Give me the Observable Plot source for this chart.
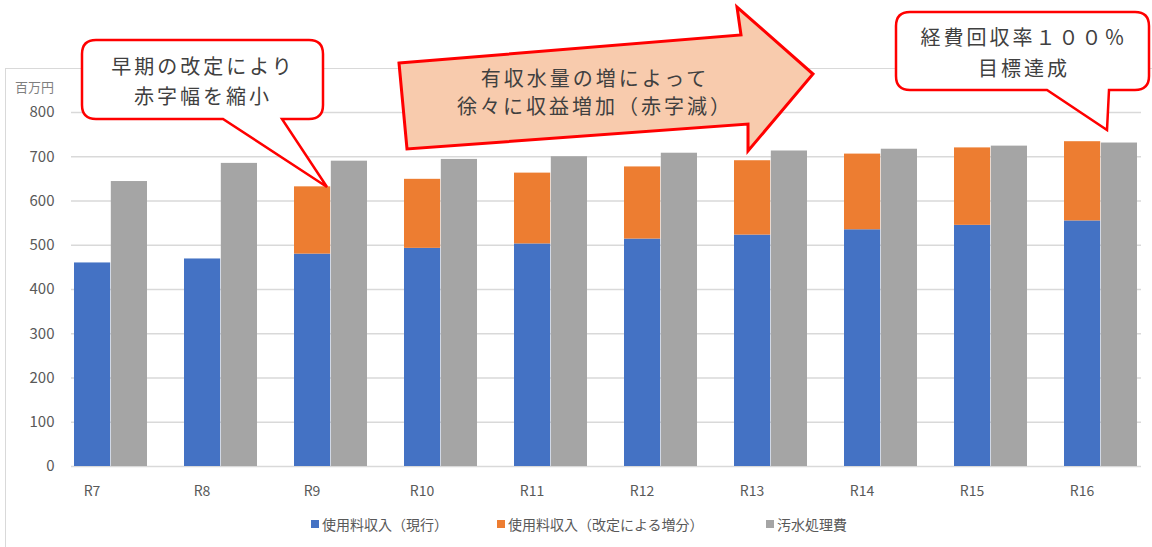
<!DOCTYPE html>
<html>
<head>
<meta charset="utf-8">
<script src="https://cdn.jsdelivr.net/npm/d3@7"></script>
<script src="https://cdn.jsdelivr.net/npm/@observablehq/plot@0.6"></script>
<style>
  html, body { margin: 0; padding: 0; background: #fff; }
  #wrap { position: relative; width: 1152px; height: 547px; overflow: hidden; font-family: "Noto Sans CJK JP", "Noto Sans", sans-serif; }
  #frame { position: absolute; left: 5px; top: 68px; width: 1160px; height: 500px; border: 1px solid #d9d9d9; box-sizing: border-box; }
  #chart { position: absolute; left: 0; top: 0; }
  #unit { position: absolute; left: 15px; top: 80px; font-size: 13px; color: #7f7f7f; line-height: 1; }
  #legend { position: absolute; top: 514px; left: 0; width: 1152px; height: 20px; font-size: 14px; color: #595959; }
  .item { position: absolute; top: 0; display: flex; align-items: center; height: 20px; white-space: nowrap; }
  .sw { width: 8px; height: 8px; margin-right: 3px; }
  #overlay { position: absolute; left: 0; top: 0; pointer-events: none; }
</style>
</head>
<body>
<div id="wrap">
  <div id="frame"></div>
  <div id="chart"></div>
  <div id="unit">百万円</div>
  <div id="legend"></div>
  <svg id="overlay" width="1152" height="547"></svg>
</div>
<script>
// ---- data ----
const categories = ["R7", "R8", "R9", "R10", "R11", "R12", "R13", "R14", "R15", "R16"];
const currentRevenue = [460, 469, 480, 493, 503, 514, 523, 535, 545, 555];
const revisionIncrease = [0, 0, 152, 156, 160, 163, 168, 171, 175, 179];
const treatmentCost = [644, 685, 690, 694, 700, 708, 713, 717, 724, 731];
const seriesNames = ["使用料収入（現行）", "使用料収入（改定による増分）", "汚水処理費"];
const seriesColors = ["#4472c4", "#ed7d31", "#a5a5a5"];
const yTicks = [0, 100, 200, 300, 400, 500, 600, 700, 800];
const callout1 = ["早期の改定により", "赤字幅を縮小"];
const arrowText = ["有収水量の増によって", "徐々に収益増加（赤字減）"];
const callout2 = ["経費回収率１００％", "目標達成"];

// ---- tables ----
const revRows = [];
categories.forEach((c, i) => {
  revRows.push({cat: c, series: seriesNames[0], value: currentRevenue[i]});
  if (revisionIncrease[i] > 0) revRows.push({cat: c, series: seriesNames[1], value: revisionIncrease[i]});
});
const costRows = categories.map((c, i) => ({cat: c, series: seriesNames[2], value: treatmentCost[i]}));

// ---- layout ----
const W = 1152, H = 506, ML = 71, MR = 11, MT = 112, MB = 40;
const PI = 0.335;
const step = (W - ML - MR) / (categories.length - PI);
const half = step * (1 - PI) / 2;

const chart = Plot.plot({
  width: W, height: H,
  marginTop: MT, marginBottom: MB, marginLeft: ML, marginRight: MR,
  style: {fontFamily: '"Noto Sans CJK JP", "Noto Sans", sans-serif', background: "transparent", color: "#595959", overflow: "visible"},
  x: {domain: categories, paddingInner: PI, paddingOuter: 0, label: null},
  y: {domain: [0, 800], label: null},
  color: {domain: seriesNames, range: seriesColors},
  marks: [
    Plot.gridY(yTicks, {stroke: "#d9d9d9", strokeOpacity: 1, strokeWidth: 1.3}),
    Plot.barY(revRows, {x: "cat", y: "value", fill: "series", order: seriesNames, insetRight: half}),
    Plot.barY(costRows, {x: "cat", y: "value", fill: "series", insetLeft: half}),
    Plot.axisX({tickSize: 0, tickPadding: 20, dx: -19, fontSize: 14}),
    Plot.axisY(yTicks, {tickSize: 0, tickPadding: 17, fontSize: 15, label: null})
  ]
});
document.getElementById("chart").appendChild(chart);

// ---- legend ----
const legend = document.getElementById("legend");
const legendLeft = [311, 497, 766];
seriesNames.forEach((name, i) => {
  const it = document.createElement("div");
  it.className = "item";
  it.style.left = legendLeft[i] + "px";
  it.innerHTML = `<span class="sw" style="background:${seriesColors[i]}"></span><span>${name}</span>`;
  legend.appendChild(it);
});

// ---- annotations ----
const svg = d3.select("#overlay");
function calloutPath(x0, y0, x1, y1, r, b1, b2, tx, ty) {
  return `M${x0 + r},${y0} H${x1 - r} Q${x1},${y0} ${x1},${y0 + r} V${y1 - r} Q${x1},${y1} ${x1 - r},${y1} ` +
         `H${b2} L${tx},${ty} L${b1},${y1} H${x0 + r} Q${x0},${y1} ${x0},${y1 - r} V${y0 + r} Q${x0},${y0} ${x0 + r},${y0} Z`;
}
function addText(lines, cx, ys, size) {
  lines.forEach((t, i) => {
    svg.append("text").attr("x", cx).attr("y", ys[i]).attr("text-anchor", "middle")
      .attr("dominant-baseline", "central").attr("font-size", size).attr("letter-spacing", 3)
      .attr("fill", "#404040").attr("font-family", '"Noto Sans CJK JP", sans-serif').text(t);
  });
}
// left callout
svg.append("path").attr("d", calloutPath(82, 40, 323, 119, 14, 223, 282, 327, 187))
  .attr("fill", "#fff").attr("stroke", "#ff0000").attr("stroke-width", 2.5).attr("stroke-linejoin", "miter");
addText(callout1, 203, [65, 95], 20);
// arrow
const arrowPts = [[399, 63], [741, 35], [737, 7], [813, 74], [748, 151], [748, 124], [407, 149]];
svg.append("polygon").attr("points", arrowPts.map(p => p.join(",")).join(" "))
  .attr("fill", "#f8cbad").attr("stroke", "#ff0000").attr("stroke-width", 3).attr("stroke-linejoin", "miter");
addText(arrowText, 595, [77, 105], 20);
// right callout
svg.append("path").attr("d", calloutPath(896, 12, 1149, 90, 14, 1047, 1109, 1107, 130))
  .attr("fill", "#fff").attr("stroke", "#ff0000").attr("stroke-width", 2.5);
addText(callout2, 1024, [36, 67], 20);
</script>
</body>
</html>
